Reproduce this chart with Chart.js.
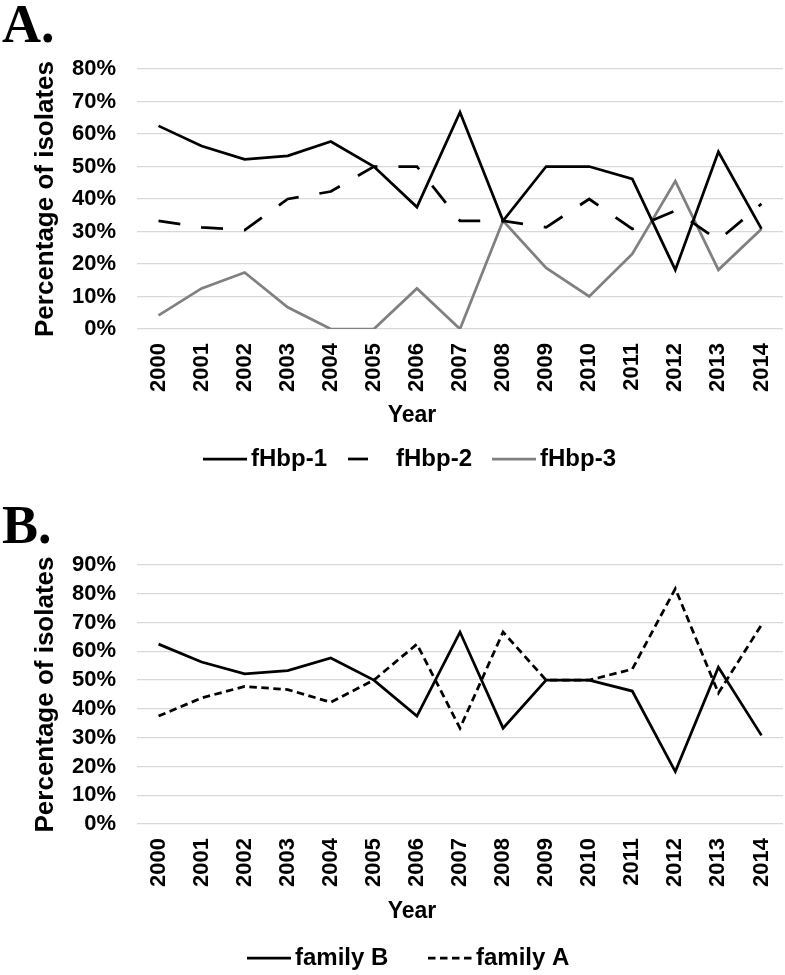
<!DOCTYPE html>
<html>
<head>
<meta charset="utf-8">
<script src="https://cdn.jsdelivr.net/npm/chart.js@4.4.1/dist/chart.umd.min.js"></script>
<style>
  body { margin: 0; background: #fff; }
  #wrap { position: relative; width: 785px; height: 975px; }
  canvas { position: absolute; left: 0; }
</style>
</head>
<body>
<div id="wrap">
  <canvas id="chartA" width="785" height="490" style="top:0"></canvas>
  <canvas id="chartB" width="785" height="485" style="top:490px"></canvas>
</div>
<script>
/* fHbp variant / family share per year */

const years = ['2000', '2001', '2002', '2003', '2004', '2005', '2006', '2007',
               '2008', '2009', '2010', '2011', '2012', '2013', '2014'];

const fHbp1 = [62.5, 56.3, 52.2, 53.3, 57.7, 50.0, 37.5, 66.7, 33.3, 50.0, 50.0, 46.2, 18.2, 54.5, 30.8];
const fHbp2 = [33.3, 31.3, 30.4, 40.0, 42.3, 50.0, 50.0, 33.3, 33.3, 31.3, 40.0, 30.8, 36.4, 27.3, 38.5];
const fHbp3 = [4.2, 12.5, 17.4, 6.7, 0.0, 0.0, 12.5, 0.0, 33.3, 18.8, 10.0, 23.1, 45.5, 18.2, 30.8];

const familyB = [62.5, 56.3, 52.2, 53.3, 57.7, 50.0, 37.5, 66.7, 33.3, 50.0, 50.0, 46.2, 18.2, 54.5, 30.8];
const familyA = [37.5, 43.8, 47.8, 46.7, 42.3, 50.0, 62.5, 33.3, 66.7, 50.0, 50.0, 53.8, 81.8, 45.5, 69.2];

const sans = "'Liberation Sans', Arial, sans-serif";

// panel letter, "Year" title and the legend, drawn under the plot
const panelExtras = {
  id: 'panelExtras',
  afterDraw(chart, args, opts) {
    const ctx = chart.ctx;
    ctx.save();
    ctx.fillStyle = '#000';

    ctx.font = "bold 54px 'Liberation Serif', 'Times New Roman', serif";
    ctx.textAlign = 'left';
    ctx.textBaseline = 'alphabetic';
    ctx.fillText(opts.letter, opts.letterX, opts.letterY);

    ctx.font = 'bold 23px ' + sans;
    ctx.textAlign = 'center';
    ctx.textBaseline = 'middle';
    ctx.fillText('Year', opts.titleX, opts.titleY);

    ctx.font = 'bold 24px ' + sans;
    ctx.textAlign = 'left';
    opts.legend.forEach(function(item) {
      const ds = chart.data.datasets[item.dataset];
      ctx.strokeStyle = ds.borderColor;
      ctx.lineWidth = ds.borderWidth;
      ctx.setLineDash(item.dash || ds.borderDash || []);
      ctx.beginPath();
      ctx.moveTo(item.x, opts.legendY);
      ctx.lineTo(item.x + 44, opts.legendY);
      ctx.stroke();
      ctx.setLineDash([]);
      ctx.fillText(ds.label, item.x + 48, opts.legendY);
    });
    ctx.restore();
  }
};

function makeChart(id, datasets, yMax, pad, extras) {
  return new Chart(document.getElementById(id), {
    type: 'line',
    data: { labels: years, datasets: datasets },
    options: {
      responsive: false,
      animation: false,
      layout: { padding: { top: pad.top, right: 2, bottom: pad.bottom, left: 0 } },
      elements: {
        point: { radius: 0 },
        line: { tension: 0, borderWidth: 2.75 }
      },
      plugins: {
        legend: { display: false },
        tooltip: { enabled: false },
        panelExtras: extras
      },
      scales: {
        x: {
          offset: true,
          grid: { display: false, drawTicks: false },
          border: { display: false },
          ticks: {
            color: '#000',
            font: { family: sans, size: 22, weight: 'bold' },
            minRotation: 90,
            maxRotation: 90,
            autoSkip: false,
            padding: 14
          },
          afterFit(scale) {
            scale.height = 100;
            scale.paddingLeft = 0;
            scale.paddingRight = 0;
          }
        },
        y: {
          min: 0,
          max: yMax,
          border: { display: false },
          grid: { color: '#d9d9d9', lineWidth: 1.25, drawTicks: false },
          ticks: {
            stepSize: 10,
            autoSkip: false,
            padding: 21,
            color: '#000',
            font: { family: sans, size: 22, weight: 'bold' },
            callback: function(v) { return v + '%'; }
          },
          title: {
            display: true,
            text: 'Percentage of isolates',
            color: '#000',
            font: { family: sans, size: 26, weight: 'bold' },
            padding: { top: 30, bottom: 0 }
          },
          afterFit(scale) { scale.width = 137; }
        }
      }
    },
    plugins: [panelExtras]
  });
}

makeChart('chartA', [
  { label: 'fHbp-1', data: fHbp1, borderColor: '#000000', borderWidth: 2.75 },
  { label: 'fHbp-2', data: fHbp2, borderColor: '#000000', borderWidth: 2.75, borderDash: [22, 21] },
  { label: 'fHbp-3', data: fHbp3, borderColor: '#808080', borderWidth: 2.75 }
], 80, { top: 69, bottom: 61 }, {
  letter: 'A.', letterX: 2, letterY: 42,
  titleX: 412, titleY: 416,
  legendY: 459,
  legend: [{ dataset: 0, x: 203 }, { dataset: 1, x: 348, dash: [20, 60] }, { dataset: 2, x: 492 }]
});

makeChart('chartB', [
  { label: 'family B', data: familyB, borderColor: '#000000', borderWidth: 2.75 },
  { label: 'family A', data: familyA, borderColor: '#000000', borderWidth: 2.75, borderDash: [7.5, 4.5] }
], 90, { top: 75, bottom: 51 }, {
  letter: 'B.', letterX: 2, letterY: 53,
  titleX: 412, titleY: 422,
  legendY: 468,
  legend: [{ dataset: 0, x: 247 }, { dataset: 1, x: 428 }]
});
</script>
</body>
</html>
